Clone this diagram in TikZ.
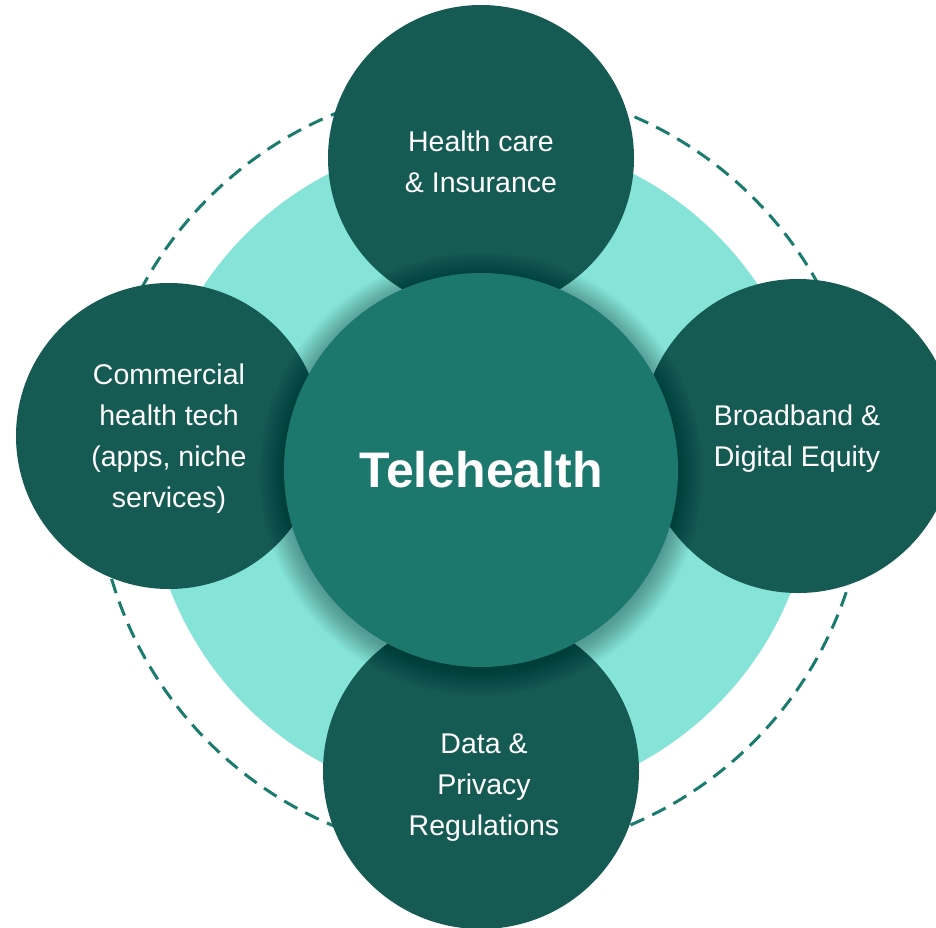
\documentclass[tikz,border=0pt]{standalone}
\usepackage{fontspec}
\setmainfont{Liberation Sans}
\definecolor{petaldark}{HTML}{165B53}
\definecolor{hubteal}{HTML}{1C776C}
\definecolor{ringlight}{HTML}{85E3D8}
\definecolor{orbitline}{HTML}{1B7B6E}
\tikzset{
  ringdisc/.style={circle, fill=ringlight, inner sep=0pt, minimum size=666pt},
  orbitring/.style={circle, draw=orbitline, line width=3pt,
    dash pattern=on 15pt off 9pt, inner sep=0pt, minimum size=770pt},
  petal/.style={circle, fill=petaldark, inner sep=0pt},
  petaltext/.style={text=white, align=center, inner sep=0pt,
    font=\fontsize{28.5}{41}\selectfont},
  hubdisc/.style={circle, fill=hubteal, inner sep=0pt, minimum size=394pt,
    text=white, font=\bfseries\fontsize{50}{60}\selectfont}
}
\begin{document}
\begin{tikzpicture}[x=1pt,y=-1pt]
\useasboundingbox (0,0) rectangle (936,927);
\clip (0,0) rectangle (936,927);

% background ring and dashed orbit
\node[ringdisc] (ring) at (481,470) {};
\node[orbitring] (orbit) at (481,470) {};

% four surrounding topics
\node[petal, minimum size=306pt] (care) at (481,158) {};
\node[petaltext] (caretext) at (481,162) {Health care\\\& Insurance};

\node[petal, minimum size=306pt] (tech) at (169,436) {};
\node[petaltext] (techtext) at (169,439) {Commercial\\health tech\\(apps, niche\\services)};

\node[petal, minimum size=314pt] (band) at (798,436) {};
\node[petaltext] (bandtext) at (797,439) {Broadband \&\\Digital Equity};

\node[petal, minimum size=316pt] (data) at (481,771) {};
\node[petaltext] (datatext) at (484,788) {Data \&\\Privacy\\Regulations};

% soft shadow under the hub
\coordinate (hubc) at (481,470);
\foreach \i in {1,...,26}
  \fill[black, opacity=.012] ([yshift=-4pt]hubc) circle[radius=196pt+\i pt];

% central hub
\node[hubdisc] (hub) at (hubc) {Telehealth};
\end{tikzpicture}
\end{document}
